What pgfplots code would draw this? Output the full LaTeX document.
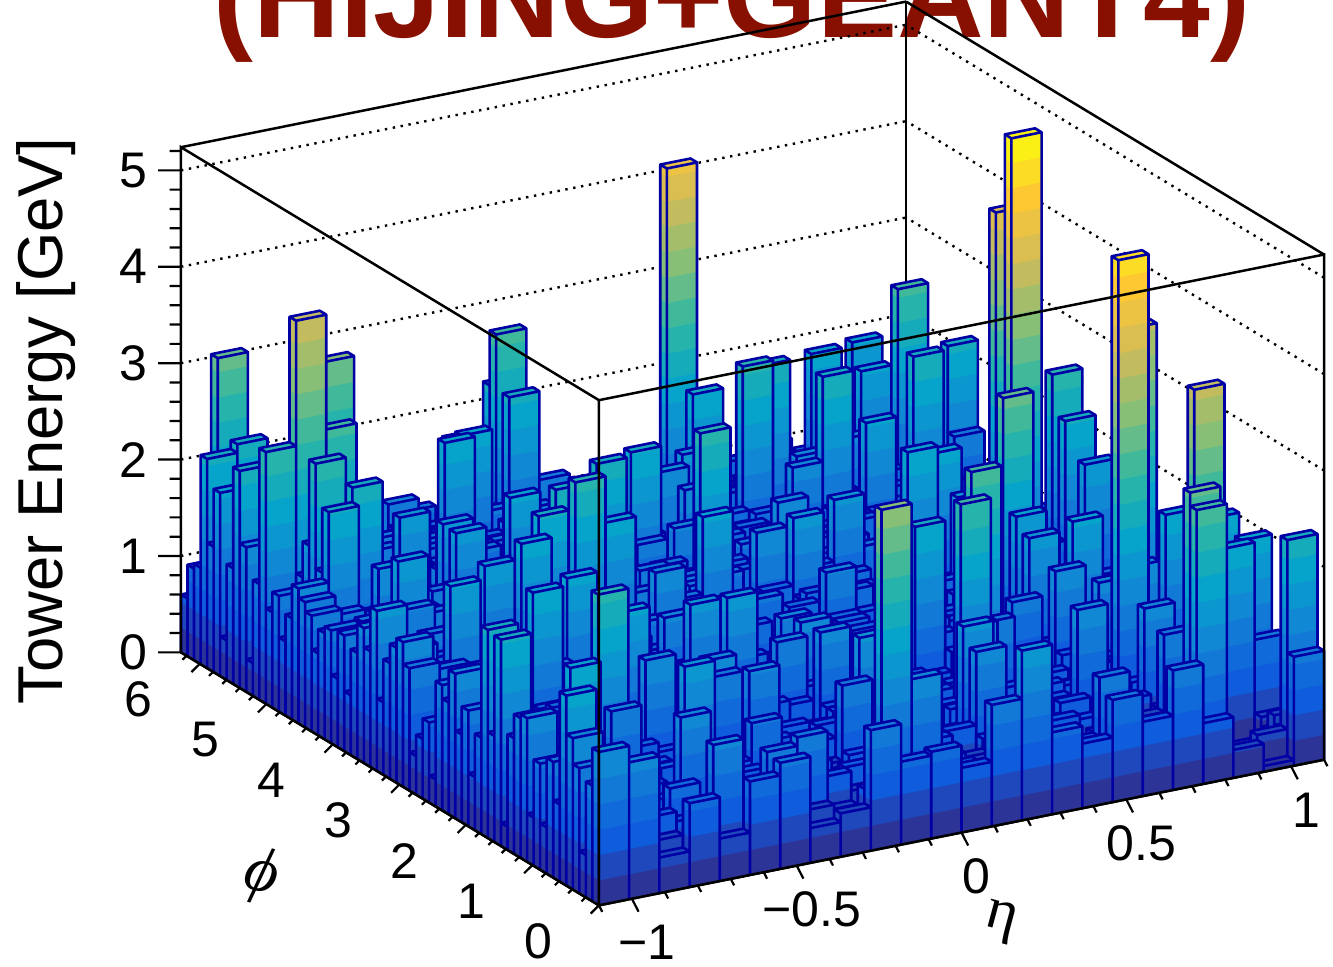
\documentclass[border=0pt]{standalone}
\usepackage{pgfplots}
\usepackage{pgfplotstable}
\usepackage{fontspec}
\pgfplotsset{compat=1.18}
\setmainfont{Liberation Sans}
\newfontfamily\greekf{Liberation Serif}
\definecolor{titlered}{RGB}{136,16,0}
\definecolor{barline}{RGB}{0,0,165}
% tower energies [GeV]: one line per phi bin (0..63), one column per eta bin (0..23)
\pgfplotstableread[header=false]{
1.59 1.42 0.37 0.87 0.44 0.97 1.10 0.36 0.45 1.25 0.86 0.90 0.67 1.26 1.76 0.85 0.67 1.06 0.77 1.24 0.63 0.29 0.06 1.13
1.2 0.8 0.5 0.3 0.6 0.4 0.7 0.5 0.3 0.6 0.2 0.5 0.4 0.3 0.6 0.5 0.3 0.4 0.6 0.3 0.4 0.1 0.34 0.5
0.9 0.5 0.7 0.6 0.3 0.5 0.4 0.8 0.4 0.3 0.7 0.3 0.6 0.5 0.3 0.4 0.6 0.3 0.5 0.4 0.5 0.1 0.05 0.3
1.3 0.6 0.4 0.5 0.7 0.3 0.6 0.4 0.7 0.5 0.4 0.6 0.3 0.4 0.7 0.3 0.5 0.6 0.3 0.5 0.3 0.1 0.05 0.4
1.0 0.9 0.6 0.4 0.5 0.7 0.3 0.6 0.3 0.7 0.5 0.4 0.6 0.3 0.5 0.6 0.3 0.4 0.5 0.3 0.6 0.1 0.05 0.2
1.4 0.5 0.8 0.7 0.3 0.4 0.6 0.3 0.5 0.4 0.6 0.7 0.4 0.5 0.3 0.4 0.7 0.3 0.6 0.4 0.3 0.1 0.05 0.3
0.8 1.1 0.4 0.6 0.7 0.5 0.3 0.6 0.7 0.3 0.5 0.4 0.7 0.3 0.6 0.3 0.4 0.6 0.3 0.5 0.4 0.3 0.4 1.06
1.2 0.6 0.9 0.4 0.5 0.3 0.7 0.4 0.6 0.5 0.3 0.6 0.4 0.7 0.3 0.5 0.6 0.3 0.5 0.4 0.5 0.3 0.3 0.4
0.7 0.8 0.5 0.7 0.4 0.6 0.5 0.3 0.7 0.4 0.6 0.3 0.5 0.4 0.6 0.3 0.5 0.7 0.3 0.6 0.3 0.4 0.5 0.3
1.1 0.9 0.6 0.4 0.8 0.3 0.7 0.6 0.3 0.5 0.7 0.4 0.3 0.6 0.5 0.4 0.3 0.6 0.5 0.3 0.4 0.5 0.3 0.4
0.6 0.7 1.0 0.5 0.6 0.7 0.4 0.3 0.6 0.7 0.4 0.5 0.7 0.3 0.4 0.6 0.5 0.3 0.6 0.5 0.3 0.4 0.5 0.3
1.5 0.5 0.7 0.8 0.3 0.5 0.6 0.7 0.4 0.3 0.6 0.7 0.4 0.5 0.7 0.3 0.4 0.6 0.3 0.4 0.6 0.3 0.3 0.5
1.4 1.0 0.6 0.4 0.7 0.6 0.3 0.5 0.7 0.4 0.5 0.3 0.7 0.6 0.3 0.5 0.4 0.7 0.3 0.5 0.4 0.6 0.3 0.4
1.2 0.8 0.9 0.7 0.5 0.3 0.7 0.6 0.3 0.5 0.7 0.4 0.3 0.6 0.5 0.4 0.7 0.3 0.6 0.4 0.3 0.5 0.6 0.3
0.8 1.1 0.5 0.6 0.8 0.7 0.4 0.3 0.6 0.7 0.5 0.3 0.7 0.4 0.6 0.5 0.3 0.6 0.4 0.7 0.3 0.4 0.5 0.6
1.3 0.7 1.0 0.4 0.6 0.5 0.8 0.7 0.3 0.4 0.6 0.7 0.5 0.3 0.7 0.4 0.6 0.3 0.5 0.6 0.7 0.3 0.4 0.5
1.1 0.9 0.6 0.8 0.5 0.7 0.4 0.6 0.8 0.3 0.5 0.7 0.3 0.6 0.4 0.7 0.5 0.3 0.6 0.4 0.5 0.7 0.3 0.4
1.5 0.6 0.8 0.5 0.9 0.4 0.7 0.5 0.6 0.8 0.3 0.4 0.7 0.5 0.3 0.6 0.7 0.4 0.3 0.7 0.5 0.3 0.6 0.4
1.0 1.2 0.7 0.9 0.4 0.6 0.5 0.8 0.3 0.6 0.7 0.4 0.3 0.7 0.5 0.4 0.6 0.7 0.3 0.5 0.6 0.4 0.3 0.7
1.4 0.8 1.0 0.6 0.7 0.5 0.9 0.4 0.7 0.5 0.3 0.8 0.6 0.4 0.7 0.3 0.5 0.6 0.7 0.4 0.3 0.6 0.5 0.3
1.2 1.0 0.6 0.8 0.5 0.7 0.6 0.9 0.4 0.7 0.8 0.3 0.5 0.7 0.4 0.6 0.8 0.3 0.5 0.7 0.4 0.3 0.6 0.5
1.0 0.9 0.7 1.0 0.6 0.4 0.8 0.5 0.9 0.3 0.6 0.7 0.4 0.8 0.5 0.3 0.7 0.6 0.4 0.5 0.7 0.4 0.3 0.6
1.5 1.1 0.9 0.5 0.8 0.7 0.4 0.9 0.6 0.5 0.8 0.3 0.7 0.5 0.6 0.8 0.4 0.3 0.7 0.5 0.6 0.3 0.4 0.7
1.1 0.8 0.6 0.9 0.7 1.0 0.5 0.6 0.8 0.4 0.7 0.9 0.3 0.6 0.8 0.5 0.3 0.7 0.6 0.4 0.8 0.5 0.3 0.6
1.3 1.0 0.8 0.7 1.0 0.5 0.9 0.7 0.4 0.8 0.6 0.3 0.9 0.5 0.7 0.4 0.8 0.6 0.3 0.7 0.5 0.4 0.6 0.3
1.4 0.9 1.1 0.6 0.5 0.8 0.7 1.0 0.6 0.4 0.9 0.7 0.5 0.8 0.3 0.6 0.9 0.4 0.7 0.5 0.3 0.8 0.6 0.4
1.2 1.1 0.7 1.0 0.8 0.6 1.0 0.5 0.9 0.7 0.4 0.8 0.6 0.3 0.9 0.7 0.5 0.8 0.4 0.6 0.7 0.3 0.5 0.8
1.6 0.9 0.8 0.6 1.1 0.7 0.5 0.9 0.6 1.0 0.8 0.5 0.7 0.9 0.4 0.6 0.8 0.5 0.7 0.9 0.4 0.6 0.3 0.7
1.3 1.0 1.2 0.7 0.9 0.5 1.0 0.7 0.8 0.5 1.0 0.6 0.8 0.4 0.9 0.7 0.5 0.8 0.6 0.3 0.8 0.5 0.7 0.4
1.1 1.2 0.8 1.1 0.6 0.9 0.7 1.1 0.5 0.8 0.6 1.0 0.4 0.7 0.9 0.5 0.8 0.6 0.9 0.4 0.7 0.5 0.3 0.8
1.5 0.9 1.0 0.7 1.0 0.8 1.1 0.6 0.9 0.7 1.0 0.5 0.8 0.6 1.0 0.4 0.7 0.9 0.5 0.8 0.3 0.6 0.8 0.5
1.4 1.1 0.7 1.0 0.8 1.1 0.6 0.9 0.7 1.1 0.5 0.9 0.7 1.0 0.5 0.8 0.6 1.0 0.4 0.7 0.9 0.5 0.6 0.3
1.2 0.9 1.1 0.8 1.2 0.6 1.0 0.8 1.1 0.6 0.9 0.7 1.1 0.5 0.8 1.0 0.6 0.4 0.9 0.7 0.5 0.8 0.4 0.7
1.3 1.0 0.9 1.1 0.7 1.0 0.8 1.2 0.7 0.9 0.6 1.1 0.8 0.5 1.0 0.7 0.9 0.6 0.8 0.5 1.0 0.4 0.7 0.6
1.6 1.2 0.8 0.9 1.1 0.7 1.0 0.6 0.9 1.1 0.7 0.8 1.0 0.6 0.9 0.5 0.8 1.0 0.4 0.7 0.6 0.9 0.5 0.8
1.2 1.1 1.0 0.8 1.0 1.2 0.6 1.0 0.8 0.7 1.1 0.6 0.9 1.0 0.7 0.9 0.5 0.8 1.0 0.6 0.4 0.7 0.9 0.6
1.4 0.9 1.2 0.7 0.9 0.8 1.1 0.7 1.0 1.2 0.6 0.9 0.7 1.1 0.6 1.0 0.8 0.5 0.9 0.7 0.8 0.5 0.6 0.9
1.1 1.0 0.8 1.1 1.2 0.7 1.0 0.9 0.7 1.0 0.8 1.1 0.6 0.9 1.1 0.7 0.9 0.6 1.0 0.8 0.5 0.9 0.7 0.5
1.5 1.3 1.0 0.8 0.7 1.1 0.9 1.2 0.8 0.6 1.0 0.7 1.1 0.8 0.6 1.0 0.7 1.1 0.6 0.8 0.9 0.6 0.8 0.7
1.2 0.9 1.1 1.0 0.9 0.7 1.2 0.8 1.0 0.9 0.7 1.1 0.8 0.6 1.0 0.9 0.6 0.8 1.1 0.5 0.7 1.0 0.6 0.8
1.3 1.1 0.9 1.2 0.8 1.0 0.7 1.1 0.6 1.0 1.2 0.8 0.7 1.0 0.8 0.6 1.0 0.9 0.7 1.0 0.6 0.8 0.9 0.5
1.4 1.2 1.0 0.7 1.1 0.9 1.2 0.6 0.9 1.1 0.8 1.0 0.7 0.9 0.6 1.1 0.8 0.6 0.9 0.7 1.0 0.5 0.7 0.8
1.1 0.9 1.2 1.0 0.8 1.1 0.7 1.0 1.2 0.7 0.9 1.1 0.8 1.0 0.7 0.9 0.6 1.0 0.8 0.6 0.9 0.7 0.5 0.9
1.5 1.3 0.8 1.1 0.9 0.7 1.2 0.9 0.7 1.1 0.8 1.0 0.9 0.6 1.1 0.7 1.0 0.7 0.6 0.9 0.7 1.0 0.6 0.7
1.2 1.0 1.1 0.9 1.2 0.8 1.0 0.7 1.1 0.9 1.0 0.7 1.1 0.8 0.9 0.6 0.9 1.0 0.7 0.8 0.5 0.8 1.0 0.6
1.3 1.1 0.9 1.2 0.7 1.0 0.9 1.1 0.8 1.0 0.7 1.2 0.8 0.9 0.7 1.0 0.8 0.6 1.0 0.7 0.9 0.6 0.7 0.9
1.4 1.2 1.0 0.8 1.0 1.1 0.7 0.9 1.2 0.8 1.0 0.7 0.9 1.1 0.6 0.9 1.0 0.7 0.8 1.0 0.6 0.8 0.9 0.5
1.1 1.0 1.2 1.0 0.9 0.8 1.1 0.7 1.0 1.1 0.7 0.9 1.0 0.8 1.0 0.7 0.6 0.9 0.7 0.8 1.0 0.6 0.7 0.8
1.5 1.1 0.9 1.1 1.0 1.2 0.8 1.0 0.7 0.9 1.1 0.8 0.7 1.0 0.8 1.0 0.9 0.6 1.0 0.7 0.7 0.9 0.6 0.8
1.2 1.2 1.0 0.8 1.2 0.9 1.1 0.8 1.0 0.7 0.9 1.1 0.8 0.7 1.0 0.8 0.7 1.0 0.6 0.9 0.8 0.6 0.8 0.7
1.3 1.0 1.1 1.0 0.8 1.1 0.7 1.0 0.9 1.1 0.7 0.9 1.0 0.8 0.6 0.9 1.0 0.7 0.9 0.7 1.0 0.7 0.6 0.9
1.4 1.1 0.9 1.2 1.0 0.8 1.1 0.9 0.7 1.0 0.8 1.1 0.7 0.9 0.8 1.0 0.6 0.8 1.0 0.8 0.6 0.9 0.7 0.6
1.2 1.0 1.2 0.9 1.1 1.0 0.7 1.1 0.8 1.0 0.9 0.7 1.0 0.8 0.9 0.7 1.0 0.7 0.8 0.6 0.9 0.7 0.8 0.7
1.1 1.2 1.0 1.1 0.8 0.9 1.0 0.7 1.1 0.9 0.7 1.0 0.9 0.7 1.0 0.8 0.6 0.9 0.7 0.9 0.7 0.8 0.6 0.9
1.5 1.0 0.9 1.0 1.2 0.8 1.1 0.9 0.8 1.0 1.1 0.8 0.7 1.0 0.7 0.9 0.8 1.0 0.6 0.8 0.9 0.6 0.8 0.7
1.3 1.1 1.1 0.8 1.0 1.1 0.7 1.0 0.9 0.7 1.0 0.9 1.1 0.7 0.9 0.8 1.0 0.7 0.9 0.7 0.8 0.9 0.6 0.8
1.2 0.9 1.0 1.2 0.9 0.8 1.1 0.8 1.0 1.1 0.7 1.0 0.8 0.9 0.7 1.0 0.8 0.7 1.0 0.6 0.8 0.7 0.9 0.7
1.4 1.2 0.8 1.0 1.1 1.0 0.9 1.1 0.7 0.9 1.0 0.8 0.9 1.0 0.8 0.6 0.9 1.0 0.7 0.9 0.7 0.8 0.6 0.9
1.1 1.0 1.2 0.9 0.8 1.1 1.0 0.7 1.0 0.8 1.1 0.7 1.0 0.8 1.0 0.7 0.9 0.7 0.8 1.0 0.6 0.9 0.7 0.6
1.3 1.1 0.9 1.1 1.0 0.9 1.1 0.9 0.7 1.1 0.8 0.9 1.0 0.7 0.9 1.0 0.7 0.9 0.7 0.8 0.9 0.7 0.8 0.7
1.2 1.0 1.1 0.8 1.1 1.0 0.8 1.0 1.1 0.9 0.7 1.0 0.8 1.0 0.7 0.9 0.8 0.6 1.0 0.7 0.8 0.9 0.6 0.8
1.0 0.9 1.0 1.2 0.9 0.7 1.1 0.9 0.8 1.0 1.0 0.8 0.9 0.7 1.0 0.8 0.9 1.0 0.7 0.9 0.7 0.6 0.8 0.7
1.1 1.1 0.8 1.0 1.1 1.0 0.9 1.1 0.9 0.7 0.9 1.1 0.8 1.0 0.8 0.7 1.0 0.8 0.9 0.7 0.9 0.8 0.7 0.6
0.6 0.9 1.0 0.9 0.8 1.1 0.7 1.0 0.8 1.1 0.9 0.7 1.0 0.9 0.7 1.0 0.7 0.9 0.8 1.0 0.7 0.9 0.6 0.8
}\basetbl
% towers read one by one from the picture: eta bin, phi bin, energy [GeV]
\pgfplotstableread{
i j h
0 2 0.44
0 8 0.48
0 10 0.50
0 14 0.24
0 19 0.55
0 25 0.28
0 28 0.40
0 21 0.91
0 27 0.62
0 26 0.83
0 23 1.16
0 33 0.75
0 38 0.62
0 40 0.71
0 43 0.85
0 48 0.77
0 53 0.34
0 57 0.41
0 47 1.05
0 50 0.99
0 63 0.60
0 62 0.95
0 60 2.17
0 58 1.90
0 55 2.25
0 51 2.61
0 41 1.17
0 29 1.27
0 15 2.14
0 17 2.16
0 11 1.49
0 12 1.45
0 5 1.97
0 4 1.57
0 34 1.66
1 7 0.67
1 15 0.45
1 11 0.66
1 18 0.27
1 23 1.25
1 26 1.25
1 38 0.64
1 46 2.13
1 43 0.85
1 58 0.98
1 55 1.46
1 50 1.29
1 63 3.03
1 62 1.46
1 60 2.26
1 48 2.55
1 53 1.78
1 49 1.66
1 47 1.46
1 51 3.91
1 33 0.54
1 13 0.96
1 9 2.03
2 51 2.72
3 56 3.15
2 47 2.28
4 49 1.76
2 40 1.80
6 60 1.32
11 60 1.26
5 45 1.70
5 47 1.71
8 59 1.75
8 60 1.86
7 56 2.06
8 58 1.99
10 62 2.75
10 63 2.18
10 60 2.18
7 46 1.90
7 39 2.27
4 36 1.79
2 32 1.87
3 24 2.07
5 28 1.93
2 39 1.34
5 35 2.00
6 37 2.14
2 43 1.60
15 59 4.28
3 14 2.46
9 42 2.29
7 36 2.47
11 46 2.12
15 55 2.10
12 40 2.50
16 52 2.45
17 54 2.31
20 60 2.00
22 63 1.87
21 57 1.88
18 49 2.34
22 56 2.71
21 49 2.36
23 53 2.18
13 51 1.58
14 52 1.66
20 54 1.38
11 35 1.90
8 36 1.99
10 3 3.35
15 21 2.12
14 35 1.70
13 36 1.57
14 30 1.34
12 44 1.35
9 33 1.53
18 36 2.09
19 37 1.97
15 42 1.51
19 47 1.88
23 55 1.36
23 52 1.28
19 33 1.68
17 49 1.46
18 53 1.35
16 38 1.64
13 47 1.56
19 26 3.00
21 34 5.24
22 41 4.12
20 13 4.90
22 21 3.73
21 6 3.78
20 2 2.94
20 1 2.80
23 37 2.54
23 35 2.14
23 32 1.81
16 17 2.79
15 14 2.64
19 24 1.85
19 22 1.71
20 20 1.90
22 15 2.05
22 6 2.07
23 8 2.01
23 1 2.30
23 13 2.03
21 16 1.53
20 16 1.43
19 18 1.53
18 20 1.19
16 15 1.31
14 7 1.46
18 10 1.52
20 9 1.45
20 6 1.30
17 2 1.21
15 13 1.41
5 20 1.90
8 27 1.37
8 23 1.67
9 22 1.72
10 19 1.32
11 17 1.44
11 23 1.34
11 20 1.42
3 12 1.33
4 6 1.45
5 10 1.75
7 15 1.31
8 14 1.35
7 9 1.08
10 9 1.28
5 16 1.57
7 16 1.44
6 2 1.13
7 2 1.22
11 11 1.63
11 3 1.53
14 9 1.64
4 1 1.37
3 3 0.90
}\readtbl
% load both tables into named cells
\foreach \jj in {0,...,63}{\foreach \ii in {0,...,23}{%
  \pgfplotstablegetelem{\jj}{[index]\ii}\of\basetbl
  \expandafter\xdef\csname H\ii:\jj\endcsname{\pgfplotsretval}}}
\pgfplotstablegetrowsof{\readtbl}
\pgfmathtruncatemacro\lastrow{\pgfplotsretval-1}
\foreach \r in {0,...,\lastrow}{%
  \pgfplotstablegetelem{\r}{i}\of\readtbl\edef\ci{\pgfplotsretval}%
  \pgfplotstablegetelem{\r}{j}\of\readtbl\edef\cj{\pgfplotsretval}%
  \pgfplotstablegetelem{\r}{h}\of\readtbl
  \expandafter\xdef\csname H\ci:\cj\endcsname{\pgfplotsretval}}
% bin edges
\foreach \ii in {0,...,24}{\pgfmathparse{-1.1+\ii*2.2/24}\expandafter\xdef\csname X\ii\endcsname{\pgfmathresult}}
\foreach \jj in {0,...,64}{\pgfmathparse{\jj*6.283185/64}\expandafter\xdef\csname Y\jj\endcsname{\pgfmathresult}}
\makeatletter
\def\zz#1{\strip@pt#1}
\makeatother
\newdimen\hh \newdimen\hf \newdimen\hs \newdimen\hm \newdimen\zlo \newdimen\zhi \newdimen\za \newdimen\zb
\newcount\kk
\newif\ifskipbar
\def\emitface#1#2#3#4{% bands of one face between \zlo and \zhi
  \kk=\zlo \divide\kk by 17203
  \loop
    \za=\numexpr\kk*17203\relax sp \ifdim\za<\zlo \za=\zlo\fi
    \zb=\numexpr(\kk+1)*17203\relax sp \ifdim\zb>\zhi \zb=\zhi\fi
    \ifdim\za<\zb
      \xdef\rowfill{\rowfill(#1,#2,\zz\za)[\the\kk](#3,#4,\zz\za)[\the\kk](#3,#4,\zz\zb)[\the\kk](#1,#2,\zz\zb)[\the\kk]}%
    \fi
  \ifdim\zb<\zhi \advance\kk by 1 \repeat
}
\def\onebar#1#2{%
  \hh=\csname H#1:#2\endcsname pt\relax
  \ifnum#2=0 \hf=0pt \else \hf=\csname H#1:\the\numexpr#2-1\endcsname pt\relax\fi
  \ifnum#1=0 \hs=0pt \else \hs=\csname H\the\numexpr#1-1:#2\endcsname pt\relax\fi
  \dimen0=\hh \advance\dimen0 by 0.08pt
  \skipbarfalse
  \ifdim\dimen0<\hf \ifdim\hh<\hs \skipbartrue\fi\fi
  \ifskipbar\else
  \edef\xA{\csname X#1\endcsname}\edef\xB{\csname X\the\numexpr#1+1\endcsname}%
  \edef\yA{\csname Y#2\endcsname}\edef\yB{\csname Y\the\numexpr#2+1\endcsname}%
  \ifdim\hh>\hf \zlo=\hf \zhi=\hh \emitface{\xA}{\yA}{\xB}{\yA}\fi
  \ifdim\hh>\hs \zlo=\hs \zhi=\hh \emitface{\xA}{\yA}{\xA}{\yB}\fi
  \kk=\hh \divide\kk by 17203 \ifnum\kk>19 \kk=19 \fi
  \edef\zt{\zz\hh}%
  \xdef\rowfill{\rowfill(\xA,\yA,\zt)[\the\kk](\xB,\yA,\zt)[\the\kk](\xB,\yB,\zt)[\the\kk](\xA,\yB,\zt)[\the\kk]}%
  % outline
  \ifdim\hh>\hs
    \ifdim\hh>\hf \xdef\rowline{\rowline(\xB,\yA,\zz\hf)}\fi
    \xdef\rowline{\rowline(\xB,\yA,\zt)(\xB,\yB,\zt)(\xA,\yB,\zt)(\xA,\yB,\zz\hs)(\xA,\yB,\zt)(\xA,\yA,\zt)}%
    \hm=\hf \ifdim\hs>\hm \hm=\hs\fi
    \ifdim\hh>\hm \xdef\rowline{\rowline(\xA,\yA,\zz\hm)(\xA,\yA,\zt)}\fi
    \xdef\rowline{\rowline(\xB,\yA,\zt)(nan,nan,nan)}%
  \else
    \pgfmathparse{\xA+0.01975}\edef\xC{\pgfmathresult}%
    \xdef\rowline{\rowline(\xA,\yA,\zt)(\xB,\yA,\zt)}%
    \ifdim\hh>\hf \xdef\rowline{\rowline(\xB,\yA,\zz\hf)(\xB,\yA,\zt)}\fi
    \xdef\rowline{\rowline(\xB,\yB,\zt)(\xC,\yB,\zt)(nan,nan,nan)}%
  \fi
  \fi
}
\pgfplotsset{
  boxaxis/.style={
    at={(0pt,0pt)},anchor=origin,
    x={(164.8pt,33.1pt)},y={(-33.26pt,20.13pt)},z={(0pt,48.2pt)},
    xmin=-1.1,xmax=1.1,ymin=0,ymax=6.2832,zmin=0,zmax=5.24,
    clip=false,
    colormap={bird}{rgb=(.2082,.1664,.5293) rgb=(.0592,.3599,.8684) rgb=(.0780,.5041,.8385) rgb=(.0232,.6419,.7914) rgb=(.1802,.7178,.6425) rgb=(.5301,.7492,.4662) rgb=(.8186,.7328,.3499) rgb=(.9956,.7862,.1968) rgb=(.9764,.9832,.0539)},
    point meta min=-0.5,point meta max=19.5,
  },
  fillstyle/.style={patch,patch type=rectangle,shader=flat,point meta=explicit,forget plot},
  linestyle/.style={barline,line width=1.3pt,no marks,unbounded coords=jump,point meta=none,forget plot,line join=round},
}
\begin{document}
\begin{tikzpicture}
\useasboundingbox (-480.75pt,-67.25pt) rectangle (185.75pt,416.25pt);
\clip (-480.75pt,-67.25pt) rectangle (185.75pt,416.25pt);
\node[anchor=base,text=titlered,font=\fontsize{60}{66}\selectfont\bfseries] at (-114.75pt,397.25pt) {(HIJING+GEANT4)};
% the box, its grid, its tick labels and its axis titles
\begin{axis}[boxaxis,
  xtick={-1,-0.5,0,0.5,1},xticklabels={−1,−0.5,0,0.5,1},
  ytick={0,1,2,3,4,5,6},yticklabels={0,1,2,3,4,5,6},
  ztick={0,1,2,3,4,5},zticklabels={0,1,2,3,4,5},
  tick style={draw=none},
  axis line style={line width=1.25pt},
  zmajorgrids,
  grid style={black,line width=1.2pt,dash pattern=on 1.2pt off 2.8pt},
  tick label style={font=\fontsize{25}{29}\selectfont},
  xticklabel style={anchor=center,xshift=7.5pt,yshift=-22pt},
  yticklabel style={anchor=center,xshift=-30.5pt,yshift=-18pt},
  zticklabel style={anchor=center,xshift=-24pt},
  zlabel={Tower Energy [GeV]},
  every axis z label/.style={at={(axis cs:-1.1,6.2832,2.4)},xshift=-67.5pt,rotate=90,anchor=center,font=\fontsize{31.7}{36}\selectfont},
  ylabel={\greekf\itshape ϕ},
  every axis y label/.style={at={(axis cs:-1.1,3.1416,0)},xshift=-64pt,yshift=-48.5pt,rotate=-15,anchor=center,font=\fontsize{32}{36}\selectfont},
  xlabel={\greekf η},
  every axis x label/.style={at={(axis cs:0.12,0,0)},yshift=-49pt,rotate=-15,anchor=center,font=\fontsize{30}{33}\selectfont},
]
\addplot3[draw=none,forget plot] coordinates {(-1.1,0,0)(1.1,6.2832,5.24)};
\end{axis}
% towers, phi row by phi row from the back
\foreach \jj in {63,62,...,0}{%
  \gdef\rowfill{}\gdef\rowline{}%
  \foreach \ii in {23,22,...,0}{\onebar{\ii}{\jj}}%
  \begin{axis}[boxaxis,hide axis]
  \edef\tmp{\noexpand\addplot3[fillstyle] coordinates {\rowfill};\noexpand\addplot3[linestyle] coordinates {\rowline};}%
  \tmp
  \end{axis}
}
\begin{axis}[boxaxis,hide axis]
% box edges in front of the towers
\addplot3[black,line width=1.25pt,no marks,forget plot,unbounded coords=jump] coordinates {
(-1.1,6.2832,0) (-1.1,0,0) (1.1,0,0) (1.1,0,5.24) (-1.1,0,5.24) (-1.1,6.2832,5.24) (-1.1,6.2832,0) (nan,nan,nan)
(-1.1,0,0) (-1.1,0,5.24)};
% tick marks
\addplot3[black,line width=1.1pt,no marks,forget plot,unbounded coords=jump] coordinates {
(-1.0,0,0)(-0.9797,0,-0.149)(nan,nan,nan)(-0.5,0,0)(-0.4797,0,-0.149)(nan,nan,nan)(0,0,0)(0.0203,0,-0.149)(nan,nan,nan)(0.5,0,0)(0.5203,0,-0.149)(nan,nan,nan)(1,0,0)(1.0203,0,-0.149)(nan,nan,nan)
(-1.1,0,0)(-1.0898,0,-0.075)(nan,nan,nan)(-0.9,0,0)(-0.8898,0,-0.075)(nan,nan,nan)(-0.8,0,0)(-0.7898,0,-0.075)(nan,nan,nan)(-0.7,0,0)(-0.6898,0,-0.075)(nan,nan,nan)(-0.6,0,0)(-0.5898,0,-0.075)(nan,nan,nan)(-0.4,0,0)(-0.3898,0,-0.075)(nan,nan,nan)(-0.3,0,0)(-0.2898,0,-0.075)(nan,nan,nan)(-0.2,0,0)(-0.1898,0,-0.075)(nan,nan,nan)(-0.1,0,0)(-0.0898,0,-0.075)(nan,nan,nan)(0.1,0,0)(0.1102,0,-0.075)(nan,nan,nan)(0.2,0,0)(0.2102,0,-0.075)(nan,nan,nan)(0.3,0,0)(0.3102,0,-0.075)(nan,nan,nan)(0.4,0,0)(0.4102,0,-0.075)(nan,nan,nan)(0.6,0,0)(0.6102,0,-0.075)(nan,nan,nan)(0.7,0,0)(0.7102,0,-0.075)(nan,nan,nan)(0.8,0,0)(0.8102,0,-0.075)(nan,nan,nan)(0.9,0,0)(0.9102,0,-0.075)(nan,nan,nan)(1.1,0,0)(1.1102,0,-0.075)(nan,nan,nan)
(-1.1,0,0)(-1.1,0.125,-0.138)(nan,nan,nan)(-1.1,1,0)(-1.1,1.125,-0.138)(nan,nan,nan)(-1.1,2,0)(-1.1,2.125,-0.138)(nan,nan,nan)(-1.1,3,0)(-1.1,3.125,-0.138)(nan,nan,nan)(-1.1,4,0)(-1.1,4.125,-0.138)(nan,nan,nan)(-1.1,5,0)(-1.1,5.125,-0.138)(nan,nan,nan)(-1.1,6,0)(-1.1,6.125,-0.138)(nan,nan,nan)
(-1.1,0.2,0)(-1.1,0.2625,-0.069)(nan,nan,nan)(-1.1,0.4,0)(-1.1,0.4625,-0.069)(nan,nan,nan)(-1.1,0.6,0)(-1.1,0.6625,-0.069)(nan,nan,nan)(-1.1,0.8,0)(-1.1,0.8625,-0.069)(nan,nan,nan)(-1.1,1.2,0)(-1.1,1.2625,-0.069)(nan,nan,nan)(-1.1,1.4,0)(-1.1,1.4625,-0.069)(nan,nan,nan)(-1.1,1.6,0)(-1.1,1.6625,-0.069)(nan,nan,nan)(-1.1,1.8,0)(-1.1,1.8625,-0.069)(nan,nan,nan)(-1.1,2.2,0)(-1.1,2.2625,-0.069)(nan,nan,nan)(-1.1,2.4,0)(-1.1,2.4625,-0.069)(nan,nan,nan)(-1.1,2.6,0)(-1.1,2.6625,-0.069)(nan,nan,nan)(-1.1,2.8,0)(-1.1,2.8625,-0.069)(nan,nan,nan)(-1.1,3.2,0)(-1.1,3.2625,-0.069)(nan,nan,nan)(-1.1,3.4,0)(-1.1,3.4625,-0.069)(nan,nan,nan)(-1.1,3.6,0)(-1.1,3.6625,-0.069)(nan,nan,nan)(-1.1,3.8,0)(-1.1,3.8625,-0.069)(nan,nan,nan)(-1.1,4.2,0)(-1.1,4.2625,-0.069)(nan,nan,nan)(-1.1,4.4,0)(-1.1,4.4625,-0.069)(nan,nan,nan)(-1.1,4.6,0)(-1.1,4.6625,-0.069)(nan,nan,nan)(-1.1,4.8,0)(-1.1,4.8625,-0.069)(nan,nan,nan)(-1.1,5.2,0)(-1.1,5.2625,-0.069)(nan,nan,nan)(-1.1,5.4,0)(-1.1,5.4625,-0.069)(nan,nan,nan)(-1.1,5.6,0)(-1.1,5.6625,-0.069)(nan,nan,nan)(-1.1,5.8,0)(-1.1,5.8625,-0.069)(nan,nan,nan)(-1.1,6.2,0)(-1.1,6.2625,-0.069)(nan,nan,nan)
(-1.1,6.2832,0)(-1.1696,6.2832,0.0477)(nan,nan,nan)(-1.1,6.2832,1)(-1.1696,6.2832,1.0477)(nan,nan,nan)(-1.1,6.2832,2)(-1.1696,6.2832,2.0477)(nan,nan,nan)(-1.1,6.2832,3)(-1.1696,6.2832,3.0477)(nan,nan,nan)(-1.1,6.2832,4)(-1.1696,6.2832,4.0477)(nan,nan,nan)(-1.1,6.2832,5)(-1.1696,6.2832,5.0477)(nan,nan,nan)
(-1.1,6.2832,0.2)(-1.1348,6.2832,0.2239)(nan,nan,nan)(-1.1,6.2832,0.4)(-1.1348,6.2832,0.4239)(nan,nan,nan)(-1.1,6.2832,0.6)(-1.1348,6.2832,0.6239)(nan,nan,nan)(-1.1,6.2832,0.8)(-1.1348,6.2832,0.8239)(nan,nan,nan)(-1.1,6.2832,1.2)(-1.1348,6.2832,1.2239)(nan,nan,nan)(-1.1,6.2832,1.4)(-1.1348,6.2832,1.4239)(nan,nan,nan)(-1.1,6.2832,1.6)(-1.1348,6.2832,1.6239)(nan,nan,nan)(-1.1,6.2832,1.8)(-1.1348,6.2832,1.8239)(nan,nan,nan)(-1.1,6.2832,2.2)(-1.1348,6.2832,2.2239)(nan,nan,nan)(-1.1,6.2832,2.4)(-1.1348,6.2832,2.4239)(nan,nan,nan)(-1.1,6.2832,2.6)(-1.1348,6.2832,2.6239)(nan,nan,nan)(-1.1,6.2832,2.8)(-1.1348,6.2832,2.8239)(nan,nan,nan)(-1.1,6.2832,3.2)(-1.1348,6.2832,3.2239)(nan,nan,nan)(-1.1,6.2832,3.4)(-1.1348,6.2832,3.4239)(nan,nan,nan)(-1.1,6.2832,3.6)(-1.1348,6.2832,3.6239)(nan,nan,nan)(-1.1,6.2832,3.8)(-1.1348,6.2832,3.8239)(nan,nan,nan)(-1.1,6.2832,4.2)(-1.1348,6.2832,4.2239)(nan,nan,nan)(-1.1,6.2832,4.4)(-1.1348,6.2832,4.4239)(nan,nan,nan)(-1.1,6.2832,4.6)(-1.1348,6.2832,4.6239)(nan,nan,nan)(-1.1,6.2832,4.8)(-1.1348,6.2832,4.8239)(nan,nan,nan)(-1.1,6.2832,5.2)(-1.1348,6.2832,5.2239)
};
\end{axis}
\end{tikzpicture}
\end{document}
